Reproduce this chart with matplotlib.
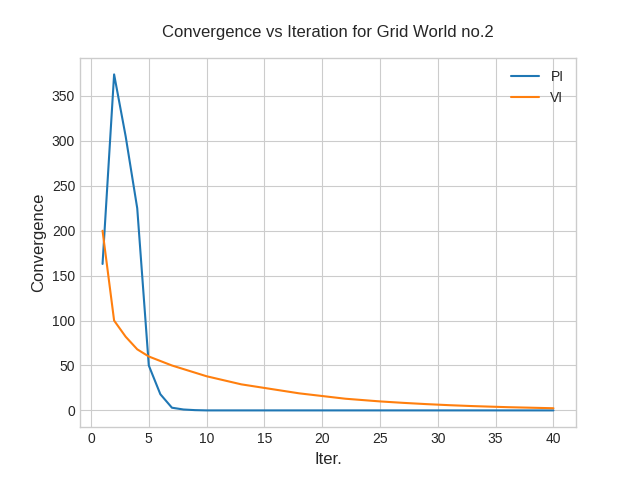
import matplotlib
matplotlib.use('Agg')
import matplotlib.pyplot as plt

iters = list(range(1, 41))
pi_conv = [163, 374, 305, 225, 50, 18, 3, 1, 0.3] + [0] * 31
vi_conv = [200, 100, 82, 68, 60, 55, 50, 46, 42, 38,
           35, 32, 29, 27, 25, 23, 21, 19, 17.5, 16,
           14.5, 13, 12, 11, 10, 9.2, 8.4, 7.7, 7.0, 6.4,
           5.8, 5.3, 4.8, 4.4, 4.0, 3.6, 3.3, 3.0, 2.7, 2.4]

plt.style.use('seaborn-v0_8-whitegrid')
fig, ax = plt.subplots(figsize=(6.4, 4.8), dpi=100)
ax.plot(iters, pi_conv, label='PI')
ax.plot(iters, vi_conv, label='VI')
ax.set_title('Convergence vs Iteration for Grid World no.2', pad=15)
ax.set_xlabel('Iter.', fontsize=12)
ax.set_ylabel('Convergence', fontsize=12)
ax.set_xticks(range(0, 41, 5))
ax.set_yticks(range(0, 351, 50))
for s in ax.spines.values():
    s.set_visible(True)
    s.set_color('#cccccc')
ax.legend()
fig.savefig('out.png')
